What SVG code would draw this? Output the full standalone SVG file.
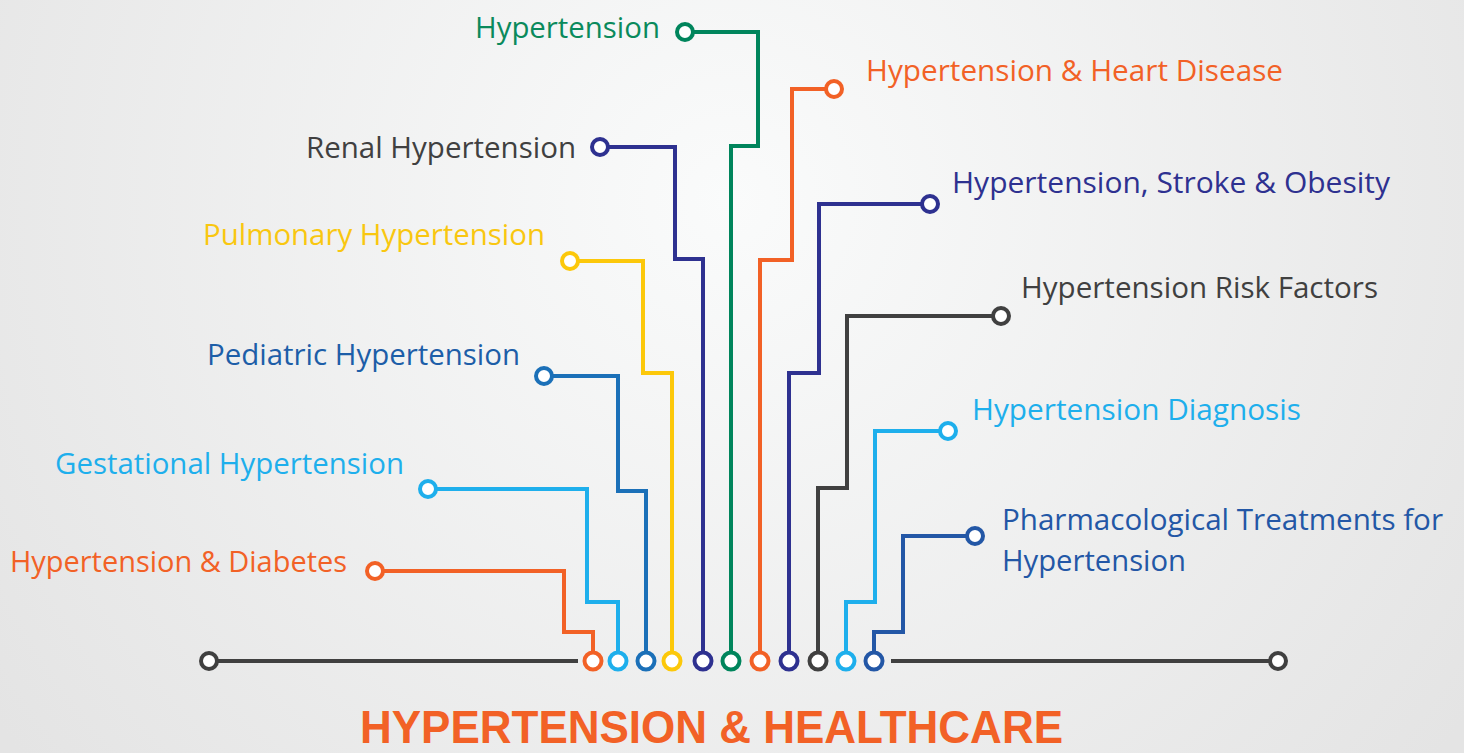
<svg xmlns="http://www.w3.org/2000/svg" width="1464" height="753" viewBox="0 0 1464 753">
<defs>
<radialGradient id="bg" cx="730" cy="200" r="900" gradientUnits="userSpaceOnUse">
<stop offset="0" stop-color="#fafbfb"/>
<stop offset="1" stop-color="#e4e4e4"/>
</radialGradient>
<style>
.w{fill:none;stroke-width:4;stroke-linejoin:miter}
.c{fill:#fff;stroke-width:4}
.t{font-family:"Open Sans","Noto Sans",sans-serif;font-size:30px}
.or{stroke:#f26126}.orf{fill:#f26126}
.cy{stroke:#1eafec}.cyf{fill:#1eafec}
.bl{stroke:#1b70b8}.blf{fill:#1d5ea8}
.ye{stroke:#fcc80a}.yef{fill:#f9c710}
.pu{stroke:#2e3190}.puf{fill:#2e3190}
.gr{stroke:#00855c}.grf{fill:#0a8a5c}
.dg{stroke:#404040}.dgf{fill:#404040}
.db{stroke:#2357a6}.dbf{fill:#2357a6}
</style>
</defs>
<rect width="1464" height="753" fill="url(#bg)"/>
<g id="connectors">
<line x1="209" y1="661" x2="578" y2="661" class="w dg"/>
<line x1="891" y1="661" x2="1278" y2="661" class="w dg"/>
<polyline class="w or" points="375,571 564,571 564,632 593,632 593,653"/>
<polyline class="w cy" points="428,489 587,489 587,602 618,602 618,653"/>
<polyline class="w bl" points="544,376 618,376 618,491 646,491 646,653"/>
<polyline class="w ye" points="570,261 643,261 643,373 672,373 672,653"/>
<polyline class="w pu" points="600,147 675,147 675,259 703,259 703,653"/>
<polyline class="w gr" points="685,32 758,32 758,146 731,146 731,653"/>
<polyline class="w or" points="834,89 792,89 792,260 760,260 760,653"/>
<polyline class="w pu" points="930,204 819,204 819,373 789,373 789,653"/>
<polyline class="w dg" points="1001,316 847,316 847,488 818,488 818,653"/>
<polyline class="w cy" points="948,431 875,431 875,602 846,602 846,653"/>
<polyline class="w db" points="975,536 903,536 903,632 874,632 874,653"/>
</g>
<g id="end-left"><circle cx="209" cy="661" r="8" class="c dg"/></g>
<g id="end-right"><circle cx="1278" cy="661" r="8" class="c dg"/></g>
<g id="bottom-nodes">
<circle cx="593" cy="661" r="8.5" class="c or"/>
<circle cx="618" cy="661" r="8.5" class="c cy"/>
<circle cx="646" cy="661" r="8.5" class="c bl"/>
<circle cx="672" cy="661" r="8.5" class="c ye"/>
<circle cx="703" cy="661" r="8.5" class="c pu"/>
<circle cx="731" cy="661" r="8.5" class="c gr"/>
<circle cx="760" cy="661" r="8.5" class="c or"/>
<circle cx="789" cy="661" r="8.5" class="c pu"/>
<circle cx="818" cy="661" r="8.5" class="c dg"/>
<circle cx="846" cy="661" r="8.5" class="c cy"/>
<circle cx="874" cy="661" r="8.5" class="c db"/>
</g>
<g id="n-diabetes"><circle cx="375" cy="571" r="8" class="c or"/><text class="t orf" x="10" y="572" textLength="337" lengthAdjust="spacingAndGlyphs">Hypertension &amp; Diabetes</text></g>
<g id="n-gestational"><circle cx="428" cy="489" r="8" class="c cy"/><text class="t cyf" x="55" y="474" textLength="349" lengthAdjust="spacingAndGlyphs">Gestational Hypertension</text></g>
<g id="n-pediatric"><circle cx="544" cy="376" r="8" class="c bl"/><text class="t blf" x="207" y="365" textLength="313" lengthAdjust="spacingAndGlyphs">Pediatric Hypertension</text></g>
<g id="n-pulmonary"><circle cx="570" cy="261" r="8" class="c ye"/><text class="t yef" x="203" y="245" textLength="342" lengthAdjust="spacingAndGlyphs">Pulmonary Hypertension</text></g>
<g id="n-renal"><circle cx="600" cy="147" r="8" class="c pu"/><text class="t dgf" x="306" y="158" textLength="270" lengthAdjust="spacingAndGlyphs">Renal Hypertension</text></g>
<g id="n-hypertension"><circle cx="685" cy="32" r="8" class="c gr"/><text class="t grf" x="475" y="38" textLength="185" lengthAdjust="spacingAndGlyphs">Hypertension</text></g>
<g id="n-heart"><circle cx="834" cy="89" r="8" class="c or"/><text class="t orf" x="866" y="81" textLength="417" lengthAdjust="spacingAndGlyphs">Hypertension &amp; Heart Disease</text></g>
<g id="n-stroke"><circle cx="930" cy="204" r="8" class="c pu"/><text class="t puf" x="952" y="193" textLength="438" lengthAdjust="spacingAndGlyphs">Hypertension, Stroke &amp; Obesity</text></g>
<g id="n-risk"><circle cx="1001" cy="316" r="8" class="c dg"/><text class="t dgf" x="1021" y="298" textLength="357" lengthAdjust="spacingAndGlyphs">Hypertension Risk Factors</text></g>
<g id="n-diagnosis"><circle cx="948" cy="431" r="8" class="c cy"/><text class="t cyf" x="972" y="420" textLength="329" lengthAdjust="spacingAndGlyphs">Hypertension Diagnosis</text></g>
<g id="n-pharma"><circle cx="975" cy="536" r="8" class="c db"/><text class="t dbf" x="1002" y="530" textLength="441" lengthAdjust="spacingAndGlyphs">Pharmacological Treatments for</text><text class="t dbf" x="1002" y="571" textLength="184" lengthAdjust="spacingAndGlyphs">Hypertension</text></g>
<g id="title"><text x="360" y="743" textLength="703" lengthAdjust="spacingAndGlyphs" font-family="'Liberation Sans',Arial,sans-serif" font-weight="bold" font-size="46" fill="#f26126">HYPERTENSION &amp; HEALTHCARE</text></g>
</svg>
